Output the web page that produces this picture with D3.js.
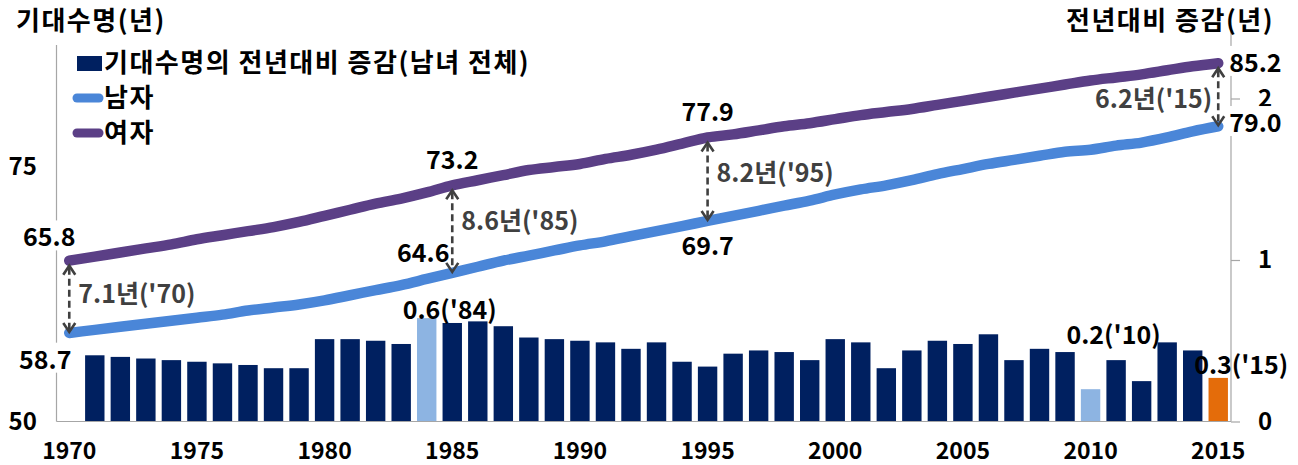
<!DOCTYPE html>
<html>
<head>
<meta charset="utf-8">
<script src="https://cdn.jsdelivr.net/npm/d3@7"></script>
<style>
  body { margin: 0; background: #fff; }
  svg text { font-family: "Noto Sans CJK KR", "Noto Sans", sans-serif; font-weight: 700; }
</style>
</head>
<body>
<svg id="chart" width="1298" height="465"></svg>
<script>
// ---- data ----
var years = d3.range(1970, 2016);
var male = [58.7, 59.0, 59.3, 59.6, 59.9, 60.2, 60.5, 60.9, 61.2, 61.5,
            61.9, 62.4, 62.9, 63.4, 64.0, 64.6, 65.2, 65.8, 66.3, 66.8,
            67.3, 67.7, 68.2, 68.7, 69.2, 69.7, 70.2, 70.7, 71.2, 71.7,
            72.3, 72.8, 73.2, 73.7, 74.3, 74.8, 75.3, 75.7, 76.1, 76.5,
            76.7, 77.1, 77.4, 77.9, 78.5, 79.0];
var female = [65.8, 66.2, 66.6, 67.0, 67.4, 67.9, 68.3, 68.7, 69.1, 69.6,
              70.2, 70.8, 71.4, 71.9, 72.5, 73.2, 73.7, 74.2, 74.7, 75.0,
              75.3, 75.8, 76.2, 76.7, 77.3, 77.9, 78.2, 78.6, 79.0, 79.3,
              79.7, 80.1, 80.4, 80.7, 81.1, 81.5, 81.9, 82.3, 82.7, 83.1,
              83.5, 83.8, 84.1, 84.5, 84.9, 85.2];
// yearly change of total life expectancy, 1971..2015
var barYears = d3.range(1971, 2016);
var change = [0.41, 0.40, 0.39, 0.38, 0.37, 0.36, 0.35, 0.33, 0.33,
              0.51, 0.51, 0.50, 0.48, 0.64, 0.61, 0.62, 0.59, 0.52, 0.51,
              0.50, 0.49, 0.45, 0.49, 0.37, 0.34, 0.42, 0.44, 0.43, 0.38,
              0.51, 0.49, 0.33, 0.44, 0.50, 0.48, 0.54, 0.38, 0.45, 0.43,
              0.20, 0.38, 0.25, 0.49, 0.44, 0.27];
var xTicks = [1970, 1975, 1980, 1985, 1990, 1995, 2000, 2005, 2010, 2015];
var leftTicks = [50, 75];
var rightTicks = [0, 1, 2];
var gapYears = [1970, 1985, 1995, 2015];
var gapLabels = ["7.1년('70)", "8.6년('85)", "8.2년('95)", "6.2년('15)"];
var noteYears = [1984, 2010, 2015];
var noteLabels = ["0.6('84)", "0.2('10)", "0.3('15)"];

var navy = "#002060", light = "#8db4e2", orange = "#e46c0a";
var maleColor = "#4a86d8", femaleColor = "#5b3f86", arrowColor = "#404040";

var svg = d3.select("#chart");

var x = d3.scaleBand().domain(years).range([56.5, 1231]).paddingInner(0.24).paddingOuter(0.12);
var cx = function(yr) { return x(yr) + x.bandwidth() / 2; };
var yL = d3.scaleLinear().domain([50, 75]).range([421.5, 167]);
var yR = d3.scaleLinear().domain([0, 1]).range([421.5, 260]);

// axis lines
svg.append("line").attr("x1", 56.5).attr("x2", 56.5).attr("y1", 45).attr("y2", 421.5)
  .attr("stroke", "#a6a6a6").attr("stroke-width", 1.2);
svg.append("line").attr("x1", 1231).attr("x2", 1231).attr("y1", 30).attr("y2", 421.5)
  .attr("stroke", "#a6a6a6").attr("stroke-width", 1.2);

// bars
svg.append("g").selectAll("rect")
  .data(barYears)
  .join("rect")
  .attr("x", function(d) { return x(d); })
  .attr("width", x.bandwidth())
  .attr("y", function(d, i) { return yR(change[i]); })
  .attr("height", function(d, i) { return yR(0) - yR(change[i]); })
  .attr("fill", function(d) { return d === 2015 ? orange : (d === 1984 || d === 2010) ? light : navy; });

// x axis
var gx = svg.append("g").attr("transform", "translate(0,421.5)")
  .call(d3.axisBottom(x).tickValues(xTicks).tickSize(0).tickPadding(21));
gx.select(".domain").remove();
svg.append("line").attr("x1", 56.5).attr("x2", 1231).attr("y1", 421.5).attr("y2", 421.5)
  .attr("stroke", "#a6a6a6").attr("stroke-width", 1.2);
gx.selectAll("text").attr("font-size", 23).attr("fill", "#000")
  .style("font-family", "'Noto Sans CJK KR', sans-serif").style("font-weight", 700);

// left axis
var gl = svg.append("g").attr("transform", "translate(56.5,0)")
  .call(d3.axisLeft(yL).tickValues(leftTicks).tickSize(0));
gl.select(".domain").remove();
gl.selectAll("text").attr("x", -48).attr("text-anchor", "start").attr("font-size", 24).attr("fill", "#000")
  .style("font-family", "'Noto Sans CJK KR', sans-serif").style("font-weight", 700);

// right axis
var gr = svg.append("g").attr("transform", "translate(1231,0)")
  .call(d3.axisRight(yR).tickValues(rightTicks).tickFormat(d3.format("d")).tickSize(9).tickPadding(0));
gr.select(".domain").remove();
gr.selectAll("line").attr("stroke", "#a6a6a6").attr("stroke-width", 1.2);
gr.selectAll("text").attr("x", 34).attr("text-anchor", "middle").attr("font-size", 24).attr("fill", "#000")
  .style("font-family", "'Noto Sans CJK KR', sans-serif").style("font-weight", 700);

// lines
var line = function(vals) {
  return d3.line().x(function(d, i) { return cx(years[i]); }).y(function(d) { return yL(d); })
    .curve(d3.curveMonotoneX)(vals);
};
svg.append("path").attr("d", line(female)).attr("fill", "none")
  .attr("stroke", femaleColor).attr("stroke-width", 10.5).attr("stroke-linecap", "round");
svg.append("path").attr("d", line(male)).attr("fill", "none")
  .attr("stroke", maleColor).attr("stroke-width", 10.5).attr("stroke-linecap", "round");

// gap arrows
var gapShift = [-5, -10, -8, 3];
gapYears.forEach(function(yr, k) {
  var i = years.indexOf(yr);
  var ax = cx(yr), top = yL(female[i]) + 5, bot = yL(male[i]) - 1;
  var g = svg.append("g").attr("stroke", arrowColor).attr("stroke-width", 2.6).attr("fill", "none");
  g.append("line").attr("x1", ax).attr("x2", ax).attr("y1", top + 2).attr("y2", bot - 2)
    .attr("stroke-dasharray", "7,4");
  g.append("path").attr("d", "M" + (ax - 6) + "," + (top + 9) + "L" + ax + "," + top + "L" + (ax + 6) + "," + (top + 9));
  g.append("path").attr("d", "M" + (ax - 6) + "," + (bot - 9) + "L" + ax + "," + bot + "L" + (ax + 6) + "," + (bot - 9));
  var end = k === 3;
  svg.append("text")
    .attr("x", end ? ax - 6 : ax + 9)
    .attr("y", (top + bot) / 2 + gapShift[k])
    .attr("dy", "0.35em")
    .attr("text-anchor", end ? "end" : "start")
    .attr("font-size", 25).attr("fill", "#404040")
    .text(gapLabels[k]);
});

// value labels with white backing
function label(tx, ty, txt, anchor, bg) {
  var t = svg.append("text").attr("x", tx).attr("y", ty).attr("dy", "0.35em")
    .attr("text-anchor", anchor).attr("font-size", 25).attr("fill", "#000").text(txt);
  if (bg) {
    var b = t.node().getBBox();
    svg.insert("rect", function() { return t.node(); })
      .attr("x", b.x - 1).attr("y", b.y + 3).attr("width", b.width + 2).attr("height", b.height - 6)
      .attr("fill", "#fff");
  }
  return t;
}
function at(arr, yr) { return arr[years.indexOf(yr)]; }
label(cx(1970) - 20, yL(at(female, 1970)) - 23, "65.8", "middle", true);
label(cx(1970) - 24, yL(at(male, 1970)) + 27, "58.7", "middle", true);
label(cx(1985) - 29, yL(at(male, 1985)) - 20, "64.6", "middle", false);
label(cx(1985), yL(at(female, 1985)) - 25, "73.2", "middle", false);
label(cx(1995), yL(at(female, 1995)) - 25, "77.9", "middle", false);
label(cx(1995), yL(at(male, 1995)) + 25, "69.7", "middle", false);
label(cx(2015) + 11, yL(at(female, 2015)), "85.2", "start", true);
label(cx(2015) + 11, yL(at(male, 2015)) - 3, "79.0", "start", true);

var noteShift = [-8, -54, -13];
noteYears.forEach(function(yr, k) {
  var v = change[barYears.indexOf(yr)];
  label(cx(yr) + 23, yR(v) + noteShift[k], noteLabels[k], "middle", false);
});

// titles
svg.append("text").attr("x", 16).attr("y", 21).attr("dy", "0.35em").attr("font-size", 26)
  .attr("letter-spacing", 1.5).attr("fill", "#000").text("기대수명(년)");
svg.append("text").attr("x", 1274).attr("y", 21).attr("dy", "0.35em").attr("font-size", 26)
  .attr("letter-spacing", 1.5).attr("text-anchor", "end").attr("fill", "#000").text("전년대비 증감(년)");

// legend
var legendRows = [63, 98, 133];
svg.append("rect").attr("x", 77).attr("y", legendRows[0] - 7).attr("width", 25).attr("height", 15).attr("fill", navy);
svg.append("line").attr("x1", 77).attr("x2", 99).attr("y1", legendRows[1]).attr("y2", legendRows[1])
  .attr("stroke", maleColor).attr("stroke-width", 9).attr("stroke-linecap", "round");
svg.append("line").attr("x1", 77).attr("x2", 99).attr("y1", legendRows[2]).attr("y2", legendRows[2])
  .attr("stroke", femaleColor).attr("stroke-width", 9).attr("stroke-linecap", "round");
["기대수명의 전년대비 증감(남녀 전체)", "남자", "여자"].forEach(function(t, i) {
  svg.append("text").attr("x", 104).attr("y", legendRows[i]).attr("dy", "0.35em")
    .attr("font-size", 26).attr("letter-spacing", 1.5).attr("fill", "#000").text(t);
});
</script>
</body>
</html>
